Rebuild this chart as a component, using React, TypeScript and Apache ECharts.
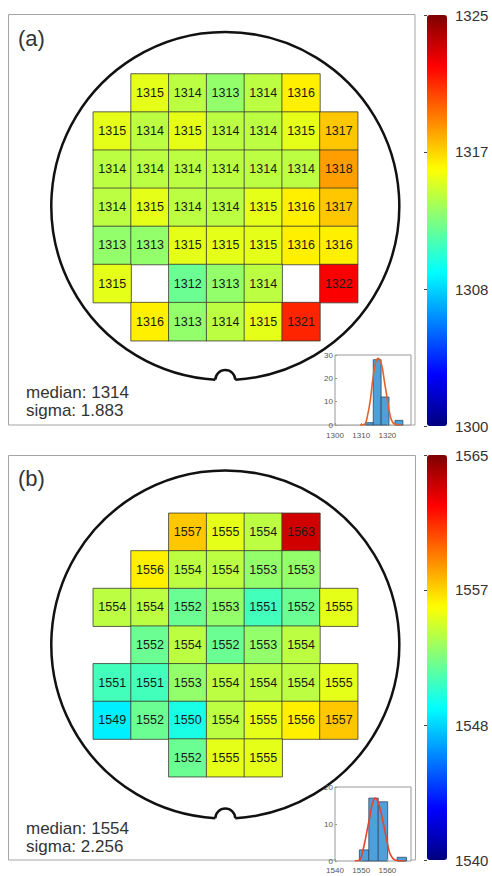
import React, { useEffect, useRef } from "react";
import * as echarts from "echarts";

// ---------- data ----------
const waferA: (number | null)[][] = [
  [null, 1315, 1314, 1313, 1314, 1316, null],
  [1315, 1314, 1315, 1314, 1314, 1315, 1317],
  [1314, 1314, 1314, 1314, 1314, 1314, 1318],
  [1314, 1315, 1314, 1314, 1315, 1316, 1317],
  [1313, 1313, 1315, 1315, 1315, 1316, 1316],
  [1315, null, 1312, 1313, 1314, null, 1322],
  [null, 1316, 1313, 1314, 1315, 1321, null],
];
const waferB: (number | null)[][] = [
  [null, null, 1557, 1555, 1554, 1563, null],
  [null, 1556, 1554, 1554, 1553, 1553, null],
  [1554, 1554, 1552, 1553, 1551, 1552, 1555],
  [null, 1552, 1554, 1552, 1553, 1554, null],
  [1551, 1551, 1553, 1554, 1554, 1554, 1555],
  [1549, 1552, 1550, 1554, 1555, 1556, 1557],
  [null, null, 1552, 1555, 1555, null, null],
];
const colCats = ["0", "1", "2", "3", "4", "5", "6"];
const rowCats = ["0", "1", "2", "3", "4", "5", "6"];

// histogram bins [start, end, count]
const histA = [
  [1311.7, 1314.6, 1],
  [1314.6, 1317.6, 28],
  [1317.6, 1320.6, 12],
  [1322.9, 1325.9, 2],
];
const histB = [
  [1549.3, 1552.9, 3],
  [1552.9, 1556.5, 17],
  [1556.5, 1560.1, 16],
  [1563.7, 1567.3, 1],
];
// fitted curve points
const fitA = [
  [1309.5, 0], [1311.2, 0.2], [1312.4, 4], [1313.4, 10], [1314.6, 21], [1315.6, 27.2],
  [1316.5, 28.6], [1317.8, 25.7], [1318.8, 19], [1319.7, 12.9], [1320.7, 6], [1321.6, 2],
  [1322.9, 0.3], [1325.4, 0],
];
const fitB = [
  [1547.5, 0], [1549.5, 0.3], [1550.5, 2.5], [1551.4, 5.2], [1552.4, 8.8], [1553.4, 12.4],
  [1554.4, 15.8], [1555.3, 17], [1556.2, 16.3], [1557.2, 14.2], [1558.2, 11], [1559.1, 7.9],
  [1560.1, 4.5], [1561, 2], [1562.9, 0.3], [1566.7, 0],
];

const cbRangeA = [1300, 1325];
const cbRangeB = [1540, 1565];
const cbTicksA = [1300, 1308.3333, 1316.6667, 1325];
const cbTicksB = [1540, 1548.3333, 1556.6667, 1565];
const histXRangeA = [1300, 1329];
const histXRangeB = [1540, 1569];
const histYMaxA = 30;
const histYMaxB = 20;

const statsA = { median: "median: 1314", sigma: "sigma: 1.883", tag: "(a)" };
const statsB = { median: "median: 1554", sigma: "sigma: 2.256", tag: "(b)" };

// ---------- styles ----------
const JET = ["#00007F", "#0000FF", "#007FFF", "#00FFFF", "#7FFF7F", "#FFFF00", "#FF7F00", "#FF0000", "#7F0000"];
const FONT = "'Liberation Sans', Arial, sans-serif";

function toHeat(rows: (number | null)[][]) {
  const out: number[][] = [];
  rows.forEach((row, r) =>
    row.forEach((v, c) => {
      if (v != null) out.push([c, r, v]);
    })
  );
  return out;
}

function histRender(params: any, api: any) {
  const p0 = api.coord([api.value(0), 0]);
  const p1 = api.coord([api.value(1), api.value(2)]);
  return {
    type: "rect",
    shape: { x: p0[0], y: p1[1], width: p1[0] - p0[0], height: p0[1] - p1[1] },
    style: { fill: "#4E9FDA", stroke: "#2E4A66", lineWidth: 0.8 },
  };
}

function wafer(cx: number, cy: number, R: number, r: number) {
  const yI = R - (r * r) / (2 * R);
  const xI = Math.sqrt(R * R - yI * yI);
  const gap = Math.atan2(xI, yI);
  const nA = Math.atan2(yI - R, xI);
  return [
    {
      type: "arc",
      z: 0,
      shape: { cx, cy, r: R, startAngle: Math.PI / 2 + gap, endAngle: Math.PI / 2 - gap + 2 * Math.PI, clockwise: true },
      style: { stroke: "#111", lineWidth: 2.5, fill: null },
    },
    {
      type: "arc",
      z: 0,
      shape: { cx, cy: cy + R, r, startAngle: nA, endAngle: -Math.PI - nA, clockwise: false },
      style: { stroke: "#111", lineWidth: 2.5, fill: null },
    },
  ];
}

function txt(x: number, y: number, text: string, size: number) {
  return {
    type: "text",
    x,
    y,
    z: 5,
    style: { text, fontSize: size, fontFamily: FONT, fill: "#333", align: "left", verticalAlign: "middle" },
  };
}

export default function App() {
  const ref = useRef<HTMLDivElement>(null);
  useEffect(() => {
    if (!ref.current) return;
    const chart = echarts.init(ref.current, undefined, { renderer: "svg" });

    const heatLabel = {
      show: true,
      formatter: (p: any) => String(p.value[2]),
      fontSize: 12.5,
      fontFamily: FONT,
      color: "#1a1a1a",
    };
    const heatItem = { borderColor: "#3a3a30", borderWidth: 0.8 };

    const histX = (idx: number, range: number[], margin: number) => ({
      type: "value",
      gridIndex: idx,
      min: range[0],
      max: range[1],
      interval: 10,
      z: 4,
      axisLine: { show: false },
      axisTick: { show: true, inside: true, length: 2, lineStyle: { color: "#999" } },
      axisLabel: {
        fontSize: 8,
        color: "#555",
        margin,
        fontFamily: FONT,
        showMaxLabel: false,
        formatter: (v: number) => String(v),
      },
      splitLine: { show: false },
    });
    const histY = (idx: number, max: number) => ({
      type: "value",
      gridIndex: idx,
      min: 0,
      max,
      interval: 10,
      z: 4,
      axisLine: { show: false },
      axisTick: { show: true, inside: true, length: 2, lineStyle: { color: "#999" } },
      axisLabel: { fontSize: 8, color: "#555", margin: 2, fontFamily: FONT },
      splitLine: { show: false },
    });
    const cbY = (idx: number, range: number[], ticks: number[]) => ({
      type: "value",
      gridIndex: idx,
      position: "right",
      min: range[0],
      max: range[1],
      axisLine: { show: false },
      axisTick: { show: true, inside: true, length: 3, customValues: ticks, lineStyle: { color: "#444" } },
      axisLabel: {
        customValues: ticks,
        formatter: (v: number) => String(Math.round(v)),
        fontSize: 15,
        color: "#333",
        margin: 8,
        fontFamily: FONT,
      },
      splitLine: { show: false },
    });

    const option: any = {
      animation: false,
      backgroundColor: "#fff",
      grid: [
        { left: 93.3, top: 74, width: 264.4, height: 266.7 },
        { left: 93.3, top: 513.3, width: 264.4, height: 263.4 },
        { left: 335, top: 355, width: 76, height: 70, show: true, borderColor: "#999", borderWidth: 1, backgroundColor: "#fff", z: 1 },
        { left: 335, top: 787, width: 76, height: 74, show: true, borderColor: "#999", borderWidth: 1, backgroundColor: "#fff", z: 1 },
        { left: 427, top: 15, width: 20, height: 411 },
        { left: 427, top: 455, width: 20, height: 405 },
      ],
      xAxis: [
        { type: "category", gridIndex: 0, data: colCats, show: false },
        { type: "category", gridIndex: 1, data: colCats, show: false },
        histX(2, histXRangeA, 6),
        histX(3, histXRangeB, 5),
        { type: "value", gridIndex: 4, min: 0, max: 1, show: false },
        { type: "value", gridIndex: 5, min: 0, max: 1, show: false },
      ],
      yAxis: [
        { type: "category", gridIndex: 0, data: rowCats, inverse: true, show: false },
        { type: "category", gridIndex: 1, data: rowCats, inverse: true, show: false },
        histY(2, histYMaxA),
        histY(3, histYMaxB),
        cbY(4, cbRangeA, cbTicksA),
        cbY(5, cbRangeB, cbTicksB),
      ],
      visualMap: [
        {
          type: "continuous",
          seriesIndex: 0,
          min: cbRangeA[0],
          max: cbRangeA[1],
          inRange: { color: JET },
          left: 427,
          top: 15,
          itemWidth: 20,
          itemHeight: 411,
          padding: 0,
          calculable: false,
          hoverLink: false,
          showLabel: false,
        },
        {
          type: "continuous",
          seriesIndex: 1,
          min: cbRangeB[0],
          max: cbRangeB[1],
          inRange: { color: JET },
          left: 427,
          top: 455,
          itemWidth: 20,
          itemHeight: 405,
          padding: 0,
          calculable: false,
          hoverLink: false,
          showLabel: false,
        },
      ],
      series: [
        {
          type: "heatmap",
          xAxisIndex: 0,
          yAxisIndex: 0,
          data: toHeat(waferA),
          label: heatLabel,
          itemStyle: heatItem,
          z: 3,
        },
        {
          type: "heatmap",
          xAxisIndex: 1,
          yAxisIndex: 1,
          data: toHeat(waferB),
          label: heatLabel,
          itemStyle: heatItem,
          z: 3,
        },
        {
          type: "custom",
          xAxisIndex: 2,
          yAxisIndex: 2,
          data: histA,
          encode: { x: [0, 1], y: 2 },
          renderItem: histRender,
          z: 3,
        },
        {
          type: "custom",
          xAxisIndex: 3,
          yAxisIndex: 3,
          data: histB,
          encode: { x: [0, 1], y: 2 },
          renderItem: histRender,
          z: 3,
        },
        {
          type: "line",
          xAxisIndex: 2,
          yAxisIndex: 2,
          data: fitA,
          smooth: 0.4,
          showSymbol: false,
          lineStyle: { color: "#E2622B", width: 1.6 },
          z: 4,
        },
        {
          type: "line",
          xAxisIndex: 3,
          yAxisIndex: 3,
          data: fitB,
          smooth: 0.4,
          showSymbol: false,
          lineStyle: { color: "#E5452B", width: 1.6 },
          z: 4,
        },
      ],
      graphic: [
        { type: "rect", z: 0, shape: { x: 8.5, y: 14.5, width: 406.5, height: 410.5 }, style: { stroke: "#a5a5a5", lineWidth: 1, fill: null } },
        { type: "rect", z: 0, shape: { x: 8.5, y: 455.5, width: 407, height: 404.5 }, style: { stroke: "#a5a5a5", lineWidth: 1, fill: null } },
        ...wafer(225.3, 206, 174, 10),
        ...wafer(225.3, 644.5, 174, 10),
        txt(18, 38, statsA.tag, 22),
        txt(26, 392, statsA.median, 17),
        txt(26, 410, statsA.sigma, 17),
        txt(18, 478, statsB.tag, 22),
        txt(26, 828, statsB.median, 17),
        txt(26, 846, statsB.sigma, 17),
      ],
    };

    chart.setOption(option);
    return () => chart.dispose();
  }, []);

  return (
    <div
      ref={ref}
      style={{ position: "absolute", left: 0, top: 0, width: 492, height: 876, background: "#fff" }}
    />
  );
}
